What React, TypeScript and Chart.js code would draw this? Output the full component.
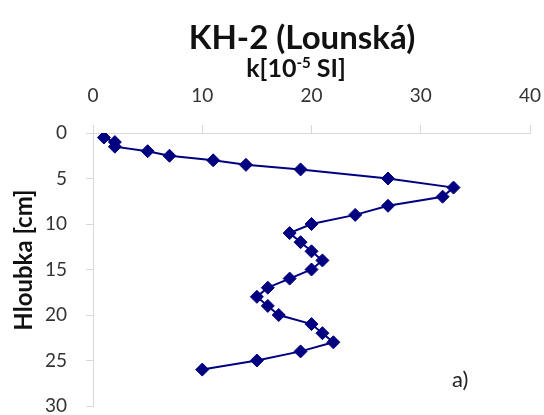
import React, { useEffect, useRef } from "react";
import { Chart, registerables } from "chart.js";

Chart.register(...registerables);

const depths = [0.5, 1, 1.5, 2, 2.5, 3, 3.5, 4, 5, 6, 7, 8, 9, 10, 11, 12, 13, 14, 15, 16, 17, 18, 19, 20, 21, 22, 23, 24, 25, 26];
const kValues = [1, 2, 2, 5, 7, 11, 14, 19, 27, 33, 32, 27, 24, 20, 18, 19, 20, 21, 20, 18, 16, 15, 16, 17, 20, 21, 22, 19, 15, 10];
const xTicks = [0, 10, 20, 30, 40];
const yTicks = [0, 5, 10, 15, 20, 25, 30];

const chartTitle = "KH-2 (Lounská)";
const xTitleMain = "k[10";
const xTitleSup = "-5";
const xTitleEnd = " SI]";
const yTitle = "Hloubka [cm]";
const panelLabel = "a)";

const FONT = "Lato, 'Open Sans', sans-serif";

const textPlugin = {
  id: "customTexts",
  afterDraw(chart: any) {
    const ctx = chart.ctx as CanvasRenderingContext2D;
    ctx.save();
    ctx.fillStyle = "#111";
    ctx.textBaseline = "alphabetic";
    // main title
    ctx.font = `bold 33px ${FONT}`;
    ctx.textAlign = "center";
    ctx.fillText(chartTitle, 302, 49);
    // x axis title with superscript
    const mainFont = `bold 25px ${FONT}`;
    const supFont = `bold 15px ${FONT}`;
    ctx.font = mainFont;
    const w1 = ctx.measureText(xTitleMain).width;
    const w3 = ctx.measureText(xTitleEnd).width;
    ctx.font = supFont;
    const w2 = ctx.measureText(xTitleSup).width;
    const total = w1 + w2 + w3;
    let x = 296 - total / 2;
    const base = 77;
    ctx.textAlign = "left";
    ctx.font = mainFont;
    ctx.fillText(xTitleMain, x, base);
    x += w1;
    ctx.font = supFont;
    ctx.fillText(xTitleSup, x, base - 9);
    x += w2;
    ctx.font = mainFont;
    ctx.fillText(xTitleEnd, x, base);
    // y axis title
    ctx.save();
    ctx.translate(32, 260);
    ctx.rotate(-Math.PI / 2);
    ctx.font = `bold 24px ${FONT}`;
    ctx.textAlign = "center";
    ctx.fillText(yTitle, 0, 0);
    ctx.restore();
    // panel label
    ctx.font = `22px ${FONT}`;
    ctx.textAlign = "left";
    ctx.fillStyle = "#222";
    ctx.fillText(panelLabel, 452, 387);
    ctx.restore();
  },
};

export default function App() {
  const canvasRef = useRef<HTMLCanvasElement>(null);

  useEffect(() => {
    document.body.style.margin = "0";
    const canvas = canvasRef.current;
    if (!canvas) return;
    const chart = new Chart(canvas, {
      type: "scatter",
      data: {
        datasets: [
          {
            data: depths.map((d, i) => ({ x: kValues[i], y: d })),
            showLine: true,
            borderColor: "#000080",
            backgroundColor: "#000080",
            borderWidth: 2,
            pointStyle: "rectRot",
            pointRadius: 6.5,
            pointHoverRadius: 6.5,
            pointBorderWidth: 1,
            pointBorderColor: "#000080",
            pointBackgroundColor: "#000080",
            tension: 0,
          },
        ],
      },
      options: {
        animation: false,
        responsive: false,
        events: [],
        layout: { padding: { left: 0, top: 0, right: 14, bottom: 9 } },
        plugins: {
          legend: { display: false },
          tooltip: { enabled: false },
          title: { display: false },
        },
        scales: {
          x: {
            type: "linear",
            position: "top",
            min: 0,
            max: 40,
            afterBuildTicks: (scale: any) => {
              scale.ticks = xTicks.map((v) => ({ value: v }));
            },
            afterFit: (scale: any) => {
              scale.height = 133;
              scale.paddingLeft = 0;
              scale.paddingRight = 0;
            },
            ticks: {
              font: { family: FONT, size: 19 },
              color: "#333",
              padding: 18,
              maxRotation: 0,
            },
            grid: {
              drawOnChartArea: false,
              drawTicks: true,
              tickLength: 8,
              color: "#d9d9d9",
            },
            border: { display: true, color: "#d9d9d9", width: 1 },
          },
          y: {
            type: "linear",
            reverse: true,
            min: 0,
            max: 30,
            afterBuildTicks: (scale: any) => {
              scale.ticks = yTicks.map((v) => ({ value: v }));
            },
            afterFit: (scale: any) => {
              scale.width = 93;
              scale.paddingTop = 0;
              scale.paddingBottom = 0;
            },
            ticks: {
              font: { family: FONT, size: 19 },
              color: "#333",
              padding: 19,
            },
            grid: {
              drawOnChartArea: false,
              drawTicks: true,
              tickLength: 7,
              color: "#d9d9d9",
            },
            border: { display: true, color: "#d9d9d9", width: 1 },
          },
        },
      },
      plugins: [textPlugin],
    });
    return () => chart.destroy();
  }, []);

  return (
    <div style={{ width: 544, height: 415, background: "#fff" }}>
      <canvas ref={canvasRef} width={544} height={415} style={{ display: "block" }} />
    </div>
  );
}
